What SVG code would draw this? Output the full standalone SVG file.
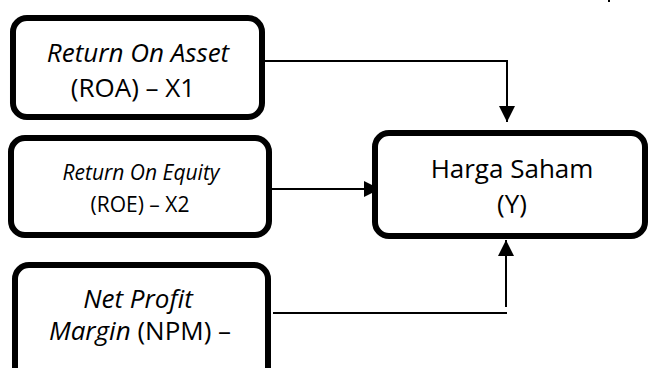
<svg xmlns="http://www.w3.org/2000/svg" width="649" height="368" viewBox="0 0 649 368">
<style>
.box{fill:#fff;stroke:#000;stroke-width:6}
.t{font-family:"Open Sans",sans-serif;fill:#000;text-anchor:middle}
.i{font-style:italic}
.c{fill:none;stroke:#000;stroke-width:2}
</style>
<defs>
<marker id="ah" viewBox="0 0 10 10" refX="10" refY="5" markerWidth="16" markerHeight="16" markerUnits="userSpaceOnUse" orient="auto">
<path d="M0,0 L10,5 L0,10 Z" fill="#000"/>
</marker>
</defs>
<rect x="608" y="0" width="2" height="2" fill="#000"/>
<g id="connectors">
<path class="c" d="M265,61 H507 V122" marker-end="url(#ah)"/>
<path class="c" d="M263,189 H380" marker-end="url(#ah)"/>
<path class="c" d="M273,313 H507"/>
<path class="c" d="M506,307 V240" marker-end="url(#ah)"/>
</g>
<g id="roa">
<rect class="box" x="13" y="18" width="249" height="99" rx="14"/>
<text class="t i" x="138" y="62" font-size="26">Return On Asset</text>
<text class="t" x="133" y="97" font-size="26">(ROA) – X1</text>
</g>
<g id="roe">
<rect class="box" x="11" y="138" width="258" height="97" rx="14"/>
<text class="t i" x="141" y="180" font-size="21">Return On Equity</text>
<text class="t" x="140" y="212" font-size="21">(ROE) – X2</text>
</g>
<g id="npm">
<rect class="box" x="15" y="265" width="253" height="120" rx="14"/>
<text class="t i" x="138" y="308" font-size="26">Net Profit</text>
<text class="t" x="140" y="340" font-size="26"><tspan class="i">Margin</tspan> (NPM) –</text>
</g>
<g id="harga">
<rect class="box" x="375" y="133" width="270" height="103" rx="14"/>
<text class="t" x="512" y="178" font-size="26">Harga Saham</text>
<text class="t" x="512" y="213" font-size="26">(Y)</text>
</g>
</svg>
